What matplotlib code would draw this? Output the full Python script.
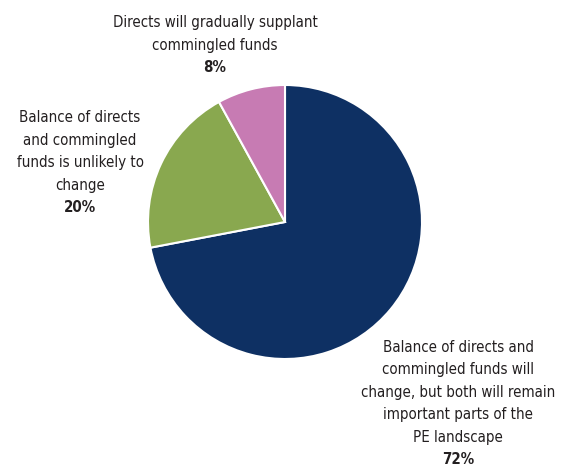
import matplotlib
matplotlib.use("Agg")
import matplotlib.pyplot as plt

labels = [
    "Balance of directs and\ncommingled funds will\nchange, but both will remain\nimportant parts of the\nPE landscape",
    "Balance of directs\nand commingled\nfunds is unlikely to\nchange",
    "Directs will gradually supplant\ncommingled funds",
]
shares = [72, 20, 8]
colors = ["#0e3063", "#89a84f", "#c77bb3"]

# pixel geometry of the pie on a 574x468 canvas
W, H = 574, 468
CX, CY, R = 285, 222, 137
LINE = 22.6  # line pitch of the labels, px


def px(x, y):
    return (x - CX) / R, (CY - y) / R


font = dict(family="DejaVu Sans", fontstretch="condensed", fontsize=10.8,
            color="#231f20", ha="center", va="center")

fig = plt.figure(figsize=(W / 100, H / 100), dpi=100)
ax = fig.add_axes([0, 0, 1, 1])
ax.pie(shares, colors=colors, startangle=90, counterclock=False, radius=1,
       wedgeprops=dict(edgecolor="white", linewidth=1.5))
ax.set_xlim(-CX / R, (W - CX) / R)
ax.set_ylim(-(H - CY) / R, CY / R)
ax.set_aspect("equal")
ax.axis("off")

# label anchors: centre of the bold percentage line, in pixels
anchors = [(458, 460), (80, 208), (215, 68)]
for text, val, (x, y) in zip(labels, shares, anchors):
    ax.text(*px(x, y), f"{val}%", fontweight="bold", **font)
    lines = text.split("\n")
    for i, line in enumerate(lines):
        ax.text(*px(x, y - LINE * (len(lines) - i)), line, **font)

fig.savefig("out.png", dpi=100)
